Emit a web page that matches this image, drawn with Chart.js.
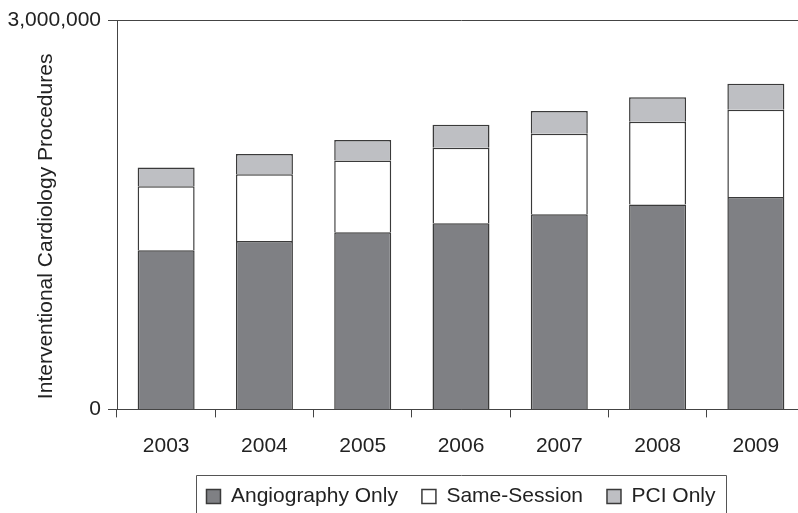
<!DOCTYPE html>
<html>
<head>
<meta charset="utf-8">
<script src="https://cdn.jsdelivr.net/npm/chart.js@4.4.1/dist/chart.umd.min.js"></script>
<style>
  html, body { margin: 0; padding: 0; background: #ffffff; }
  #wrap { width: 798px; height: 513px; overflow: hidden; position: relative; background: #ffffff; }
  canvas { display: block; }
</style>
</head>
<body>
<div id="wrap"><canvas id="c" width="805" height="517"></canvas></div>
<script>
const years = ['2003', '2004', '2005', '2006', '2007', '2008', '2009'];
const angiographyOnly = [1226000, 1298000, 1365000, 1434000, 1504000, 1579000, 1637000];
const sameSession = [494000, 514000, 553000, 581000, 619000, 637000, 671000];
const pciOnly = [144000, 155000, 157000, 178000, 175000, 188000, 201000];
const yTicks = [0, 3000000];
const yTitle = 'Interventional Cardiology Procedures';

const FONT = "'Liberation Sans', Arial, Helvetica, sans-serif";
const TEXT = '#222222';
const LINE = '#444444';
const EDGE = '#3a3a3a';

const legendBorder = {
  id: 'legendBorder',
  afterDraw(chart) {
    const lg = chart.legend;
    if (!lg || !lg.legendHitBoxes || !lg.legendHitBoxes.length) return;
    const hb = lg.legendHitBoxes;
    const first = hb[0], last = hb[hb.length - 1];
    const left = Math.round(first.left - 10) + 0.5;
    const right = Math.round(last.left + last.width + 10) + 0.5;
    const top = Math.round(first.top - 10.5) + 0.5;
    const bottom = chart.height + 2;
    const ctx = chart.ctx;
    ctx.save();
    ctx.strokeStyle = '#555555';
    ctx.lineWidth = 1;
    ctx.beginPath();
    ctx.moveTo(left, bottom);
    ctx.lineTo(left, top);
    ctx.lineTo(right, top);
    ctx.lineTo(right, bottom);
    ctx.stroke();
    ctx.restore();
  }
};

new Chart(document.getElementById('c'), {
  type: 'bar',
  data: {
    labels: years,
    datasets: [
      { label: 'Angiography Only', data: angiographyOnly, backgroundColor: '#7f8084', borderColor: EDGE, borderWidth: 1.5 },
      { label: 'Same-Session', data: sameSession, backgroundColor: '#ffffff', borderColor: EDGE, borderWidth: 1.5 },
      { label: 'PCI Only', data: pciOnly, backgroundColor: '#bebfc3', borderColor: EDGE, borderWidth: 1.5 }
    ]
  },
  options: {
    responsive: false,
    animation: false,
    devicePixelRatio: 1,
    layout: { padding: { top: 20, left: 0, right: 0, bottom: 0 } },
    datasets: { bar: { barPercentage: 0.58, categoryPercentage: 1.0 } },
    plugins: {
      tooltip: { enabled: false },
      legend: {
        position: 'bottom',
        fullSize: false,
        title: { display: true, text: '', font: { size: 2 } },
        labels: {
          boxWidth: 14,
          boxHeight: 14,
          padding: 24,
          color: TEXT,
          font: { family: FONT, size: 21 }
        }
      }
    },
    scales: {
      x: {
        stacked: true,
        offset: true,
        afterFit: (scale) => { scale.height = scale.height - 15; },
        border: { display: true, color: LINE, width: 1 },
        grid: { offset: true, drawOnChartArea: false, drawTicks: true, tickLength: 8, color: LINE, lineWidth: 1 },
        ticks: { color: TEXT, padding: 16, font: { family: FONT, size: 21 }, maxRotation: 0 }
      },
      y: {
        stacked: true,
        min: 0,
        max: 3000000,
        afterBuildTicks: (scale) => { scale.ticks = yTicks.map(v => ({ value: v })); },
        afterFit: (scale) => { scale.width = 117; },
        border: { display: true, color: LINE, width: 1 },
        grid: { drawOnChartArea: true, drawTicks: true, tickLength: 9, color: LINE, lineWidth: 1 },
        ticks: {
          color: TEXT,
          padding: 7,
          font: { family: FONT, size: 21 },
          callback: (v) => Number(v).toLocaleString('en-US')
        },
        title: {
          display: true,
          text: yTitle + '    ',
          color: TEXT,
          font: { family: FONT, size: 21 },
          padding: { top: 34, bottom: 0 }
        }
      }
    }
  },
  plugins: [legendBorder]
});
</script>
</body>
</html>
